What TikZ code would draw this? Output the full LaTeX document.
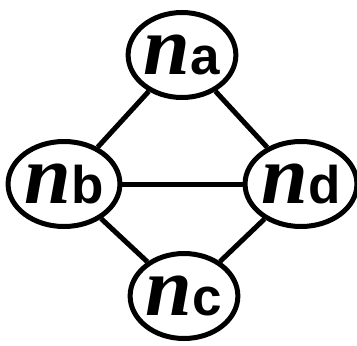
\documentclass[tikz,border=0pt]{standalone}
\usepackage{fontspec}
\setmainfont{Liberation Serif}
\setsansfont{Liberation Sans}
\usetikzlibrary{shapes.geometric}

\newcommand{\vlabel}[1]{{\fontsize{84}{84}\selectfont\bfseries\itshape n}{\fontsize{53}{53}\selectfont\sffamily\bfseries #1}}

\begin{document}
\begin{tikzpicture}[x=1pt, y=-1pt,
    vertex/.style={draw, ellipse, line width=5pt, minimum width=101pt, minimum height=85pt, inner sep=0pt, fill=white},
    link/.style={line width=5pt}]
  \useasboundingbox (0,0) rectangle (357,346);
  % the four vertices
  \node[vertex] (na) at (182,55) {\vlabel{a}};
  \node[vertex] (nb) at (64,184) {\vlabel{b}};
  \node[vertex] (nd) at (301,184) {\vlabel{d}};
  \node[vertex] (nc) at (184,296) {\vlabel{c}};
  % edges
  \draw[link] (na) -- (nb);
  \draw[link] (na) -- (nd);
  \draw[link] (nb) -- (nd);
  \draw[link] (nb) -- (nc);
  \draw[link] (nc) -- (nd);
\end{tikzpicture}
\end{document}
